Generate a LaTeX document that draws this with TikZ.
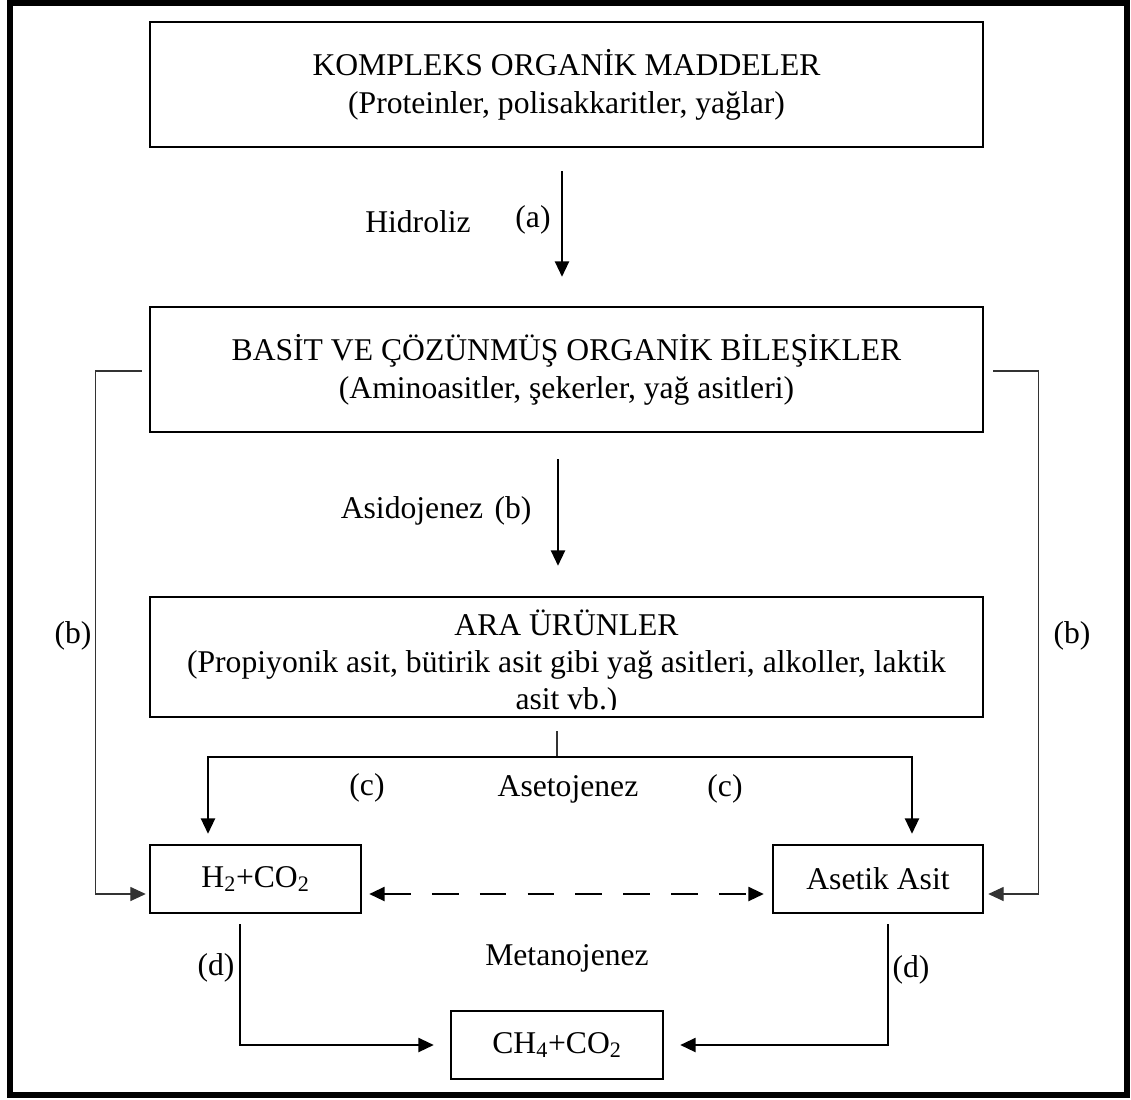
\documentclass[tikz,border=0pt]{standalone}
\usepackage{fontspec}
\setmainfont{Liberation Serif}
\usetikzlibrary{arrows.meta,calc}

\begin{document}
\begin{tikzpicture}[x=0.025cm,y=-0.025cm,>={Triangle[length=11pt,width=10pt]},
    every node/.style={font=\fontsize{22.5}{27}\selectfont},
    kutu/.style={draw,line width=1.7pt,align=center,inner sep=0pt},
    ok/.style={->,line width=1.6pt},
    ince/.style={line width=0.9pt,black!80}]
    \useasboundingbox (0,0) rectangle (1131,1099);
    \draw[line width=4.3pt] (10,3) rectangle (1127,1095);
    \node[kutu,minimum width=20.825cm,minimum height=3.125cm] (kompleks) at (566.5,84.5) {KOMPLEKS ORGANİK MADDELER\\(Proteinler, polisakkaritler, yağlar)};
    \node[kutu,minimum width=20.825cm,minimum height=3.125cm] (basit) at (566.5,369.5) {BASİT VE ÇÖZÜNMÜŞ ORGANİK BİLEŞİKLER\\(Aminoasitler, şekerler, yağ asitleri)};
    \node[kutu,minimum width=20.825cm,minimum height=3cm] (ara) at (566.5,657) {};
    \begin{scope}
      \clip ($(ara.south west)+(0,-9)$) rectangle (ara.north east);
      \node[align=center,inner sep=0pt,font=\fontsize{22.5}{26.3}\selectfont] (aratxt) at (566.5,663) {ARA ÜRÜNLER\\(Propiyonik asit, bütirik asit gibi yağ asitleri, alkoller, laktik\\asit vb.)};
    \end{scope}
    \node[kutu,minimum width=5.275cm,minimum height=1.7cm] (hidrojen) at (255.5,879) {H\textsubscript{2}+CO\textsubscript{2}};
    \node[kutu,minimum width=5.25cm,minimum height=1.7cm] (asetik) at (878,879) {Asetik Asit};
    \node[kutu,minimum width=5.3cm,minimum height=1.7cm] (metan) at (557,1045) {CH\textsubscript{4}+CO\textsubscript{2}};
    \node (hidroliz) at (418,222) {Hidroliz};
    \node (la) at (533,220) {(a)};
    \node (asidojenez) at (412,511) {Asidojenez};
    \node (lb) at (513,511) {(b)};
    \node (lbsol) at (73,636) {(b)};
    \node (lbsag) at (1072,636) {(b)};
    \node (lcsol) at (367,788) {(c)};
    \node (asetojenez) at (568,789) {Asetojenez};
    \node (lcsag) at (725,789) {(c)};
    \node (metanojenez) at (567,958) {Metanojenez};
    \node (ldsol) at (216,968) {(d)};
    \node (ldsag) at (911,970) {(d)};
    \coordinate (csol) at (208,757);
    \coordinate (csag) at (912,757);
    \draw[ok] ($(kompleks.south)+(-4.5,23)$)--($(basit.north)+(-4.5,-29)$);
    \draw[ok] ($(basit.south)+(-8.5,26)$)--($(ara.north)+(-8.5,-30)$);
    \draw[ince] ($(ara.south)+(-9.5,13)$)--($(ara.south)+(-9.5,40)$);
    \draw[line width=1.6pt,<->] ($(hidrojen.north -| csol)+(0,-10)$) |- (csag) -- ($(asetik.north -| csag)+(0,-10)$);
    \draw[ince,->] ($(basit.west)+(-7,1.5)$) -- ++(-46,0) |- ($(hidrojen.west)+(-3,15)$);
    \draw[ince,->] ($(basit.east)+(9,1.5)$) -- ++(45,0) |- ($(asetik.east)+(4,15)$);
    \draw[line width=1.6pt,<->,dash pattern=on 19pt off 15pt] ($(hidrojen.east)+(7,15)$)--($(asetik.west)+(-8,15)$);
    \draw[ok] ($(hidrojen.south)+(-15.5,10)$) |- ($(metan.west)+(-16,0)$);
    \draw[ok] ($(asetik.south)+(10,10)$) |- ($(metan.east)+(16,0)$);
  \end{tikzpicture}
\end{document}
